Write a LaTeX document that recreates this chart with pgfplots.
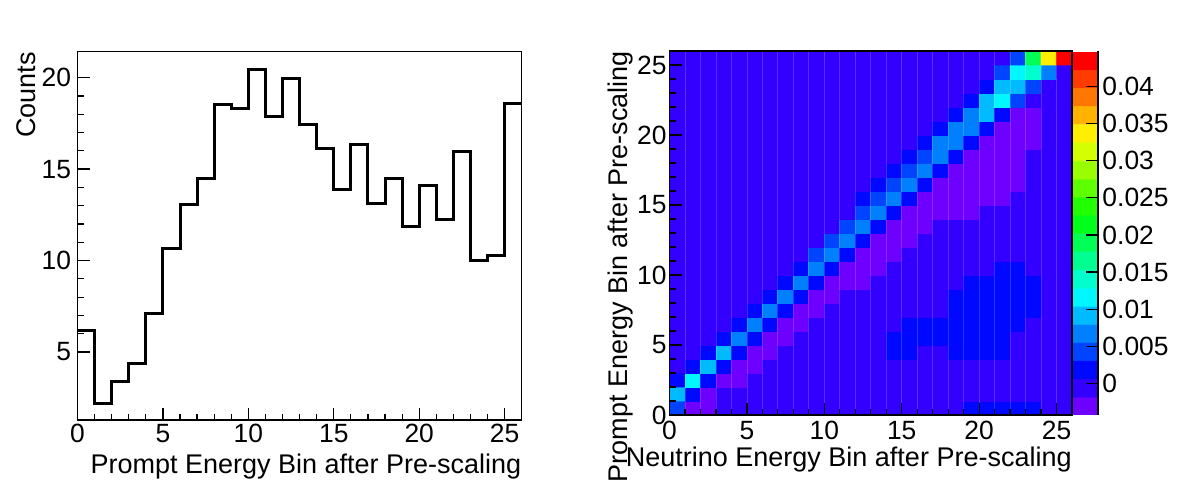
\documentclass[border=0pt]{standalone}
\usepackage{fontspec}
\setmainfont{Liberation Sans}
\usepackage{pgfplots}
\pgfplotsset{compat=1.18}
\begin{document}
\begin{tikzpicture}
\useasboundingbox (0,0) rectangle (591pt,243pt);
\pgfplotsset{
 every axis/.append style={
  scale only axis,
  /pgf/number format/assume math mode=true,
  tick label style={font=\fontsize{13.2}{15}\selectfont},
  label style={font=\fontsize{13.5}{16}\selectfont},
  axis line style={line width=0.6pt},
  tick style={line width=0.6pt, black},
  tick align=inside,
  major tick length=6pt,
  minor tick length=3pt,
 }
}
% ---------------- left: histogram ----------------
\begin{axis}[
 at={(38.75pt,33pt)}, anchor=south west,
 width=222.1pt, height=184.15pt,
 xmin=0, xmax=26, ymin=1.28, ymax=21.42,
 xtick={0,5,10,15,20,25}, ytick={5,10,15,20},
 minor x tick num=4, minor y tick num=4,
 xtick pos=bottom, ytick pos=left,
 xticklabel style={inner sep=0pt, yshift=-2pt},
 yticklabel style={inner sep=0pt, xshift=-3pt},
 xlabel={Prompt Energy Bin after Pre-scaling},
 ylabel={Counts},
 xlabel style={at={([yshift=-27pt]rel axis cs:1,0)}, anchor=base east, inner sep=0pt},
 ylabel style={at={([xshift=-21.25pt]rel axis cs:0,1)}, anchor=base east, inner sep=0pt},
]
\addplot[const plot, black, line width=1.5pt, line join=miter] coordinates {
(0,6.15) (1,2.19) (2,3.36) (3,4.38) (4,7.13) (5,10.67) (6,13.06) (7,14.51)
(8,18.54) (9,18.34) (10,20.46) (11,17.89) (12,19.96) (13,17.45) (14,16.14)
(15,13.89) (16,16.34) (17,13.11) (18,14.46) (19,11.84) (20,14.08) (21,12.27)
(22,15.97) (23,10.0) (24,10.29) (25,18.61) (26,18.61)
};
\end{axis}
% ---------------- right: 2D map ----------------
\begin{axis}[
 at={(334.75pt,35.5pt)}, anchor=south west,
 width=201.25pt, height=182pt,
 xmin=0, xmax=26, ymin=0, ymax=26,
 xtick={0,5,10,15,20,25}, ytick={0,5,10,15,20,25},
 minor x tick num=4, minor y tick num=4,
 xtick pos=bottom, ytick pos=left,
 axis on top,
 xmajorgrids, xminorgrids,
 major grid style={white, opacity=0.18, line width=0.4pt},
 minor grid style={white, opacity=0.18, line width=0.4pt},
 xticklabel style={inner sep=0pt, yshift=-3pt},
 yticklabel style={inner sep=0pt, xshift=-1.25pt},
 xlabel={Neutrino Energy Bin after Pre-scaling},
 ylabel={Prompt Energy Bin after Pre-scaling},
 xlabel style={at={([yshift=-26pt]rel axis cs:1,0)}, anchor=base east, inner sep=0pt},
 ylabel style={at={([xshift=-21.25pt]rel axis cs:0,1)}, anchor=base east, inner sep=0pt},
 colormap={rootpal}{
  rgb255(0pt)=(110,0,255) rgb255(9.8pt)=(110,0,255)
  rgb255(10pt)=(51,0,255) rgb255(19.8pt)=(51,0,255)
  rgb255(20pt)=(0,8,255) rgb255(29.8pt)=(0,8,255)
  rgb255(30pt)=(0,68,255) rgb255(39.8pt)=(0,68,255)
  rgb255(40pt)=(0,128,255) rgb255(49.8pt)=(0,128,255)
  rgb255(50pt)=(0,187,255) rgb255(59.8pt)=(0,187,255)
  rgb255(60pt)=(0,247,255) rgb255(69.8pt)=(0,247,255)
  rgb255(70pt)=(0,255,204) rgb255(79.8pt)=(0,255,204)
  rgb255(80pt)=(0,255,145) rgb255(89.8pt)=(0,255,145)
  rgb255(90pt)=(0,255,85) rgb255(99.8pt)=(0,255,85)
  rgb255(100pt)=(0,255,26) rgb255(109.8pt)=(0,255,26)
  rgb255(110pt)=(34,255,0) rgb255(119.8pt)=(34,255,0)
  rgb255(120pt)=(94,255,0) rgb255(129.8pt)=(94,255,0)
  rgb255(130pt)=(153,255,0) rgb255(139.8pt)=(153,255,0)
  rgb255(140pt)=(212,255,0) rgb255(149.8pt)=(212,255,0)
  rgb255(150pt)=(255,238,0) rgb255(159.8pt)=(255,238,0)
  rgb255(160pt)=(255,179,0) rgb255(169.8pt)=(255,179,0)
  rgb255(170pt)=(255,119,0) rgb255(179.8pt)=(255,119,0)
  rgb255(180pt)=(255,59,0) rgb255(189.8pt)=(255,59,0)
  rgb255(190pt)=(255,0,0) rgb255(200pt)=(255,0,0)
 },
 point meta min=-0.00427, point meta max=0.0448,
 colorbar,
 colorbar style={
  at={(parent axis.north east)}, anchor=north west, xshift=-8pt,
  scale only axis, width=12.5pt, height=182pt,
  axis x line=none, axis y line*=right,
  y axis line style={line width=0.6pt},
  tick align=inside, major tick length=6pt,
  scaled y ticks=false,
  ytick={0,0.005,0.01,0.015,0.02,0.025,0.03,0.035,0.04},
  yticklabels={0,0.005,0.01,0.015,0.02,0.025,0.03,0.035,0.04},
  yticklabel style={inner sep=0pt, xshift=2pt, font=\fontsize{13.2}{15}\selectfont},
 },
]
\addplot[matrix plot*, mesh/cols=26, point meta=explicit]
 table[x expr=\thisrow{c}+0.5, y expr=\thisrow{r}+0.5, meta=v, row sep=\\] {
c r v\\
0 0 0.0043\\ 1 0 -0.0042\\ 2 0 -0.003\\ 3 0 0\\ 4 0 0\\ 5 0 0\\ 6 0 0\\ 7 0 0\\ 8 0 0\\ 9 0 0\\ 10 0 0\\ 11 0 0\\ 12 0 0\\ 13 0 0\\ 14 0 0\\ 15 0 0\\ 16 0 0\\ 17 0 0\\ 18 0 0\\ 19 0 0.0019\\ 20 0 0.0019\\ 21 0 0.0019\\ 22 0 0.0019\\ 23 0 0.0019\\ 24 0 0\\ 25 0 0\\
0 1 0.0092\\ 1 1 0.0019\\ 2 1 -0.003\\ 3 1 0\\ 4 1 0\\ 5 1 0\\ 6 1 0\\ 7 1 0\\ 8 1 0\\ 9 1 0\\ 10 1 0\\ 11 1 0\\ 12 1 0\\ 13 1 0\\ 14 1 0\\ 15 1 0\\ 16 1 0\\ 17 1 0\\ 18 1 0\\ 19 1 0\\ 20 1 0\\ 21 1 0\\ 22 1 0\\ 23 1 0\\ 24 1 0\\ 25 1 0\\
0 2 0.0019\\ 1 2 0.0117\\ 2 2 0.0019\\ 3 2 -0.003\\ 4 2 -0.003\\ 5 2 0\\ 6 2 0\\ 7 2 0\\ 8 2 0\\ 9 2 0\\ 10 2 0\\ 11 2 0\\ 12 2 0\\ 13 2 0\\ 14 2 0\\ 15 2 0\\ 16 2 0\\ 17 2 0\\ 18 2 0\\ 19 2 0\\ 20 2 0\\ 21 2 0\\ 22 2 0\\ 23 2 0\\ 24 2 0\\ 25 2 0\\
0 3 0\\ 1 3 0.0019\\ 2 3 0.0092\\ 3 3 0.0019\\ 4 3 -0.003\\ 5 3 -0.003\\ 6 3 0\\ 7 3 0\\ 8 3 0\\ 9 3 0\\ 10 3 0\\ 11 3 0\\ 12 3 0\\ 13 3 0\\ 14 3 0\\ 15 3 0\\ 16 3 0\\ 17 3 0\\ 18 3 0\\ 19 3 0\\ 20 3 0\\ 21 3 0\\ 22 3 0\\ 23 3 0\\ 24 3 0\\ 25 3 0\\
0 4 0\\ 1 4 0\\ 2 4 0.0019\\ 3 4 0.0092\\ 4 4 0.0019\\ 5 4 -0.003\\ 6 4 -0.003\\ 7 4 0\\ 8 4 0\\ 9 4 0\\ 10 4 0\\ 11 4 0\\ 12 4 0\\ 13 4 0\\ 14 4 0.0019\\ 15 4 0.0019\\ 16 4 0\\ 17 4 0\\ 18 4 0.0019\\ 19 4 0.0019\\ 20 4 0.0019\\ 21 4 0.0019\\ 22 4 0\\ 23 4 0\\ 24 4 0\\ 25 4 0\\
0 5 0\\ 1 5 0\\ 2 5 0\\ 3 5 0.0019\\ 4 5 0.0068\\ 5 5 0.0019\\ 6 5 -0.003\\ 7 5 -0.003\\ 8 5 0\\ 9 5 0\\ 10 5 0\\ 11 5 0\\ 12 5 0\\ 13 5 0\\ 14 5 0.0019\\ 15 5 0.0019\\ 16 5 0.0019\\ 17 5 0.0019\\ 18 5 0.0019\\ 19 5 0.0019\\ 20 5 0.0019\\ 21 5 0.0019\\ 22 5 0\\ 23 5 0\\ 24 5 0\\ 25 5 0\\
0 6 0\\ 1 6 0\\ 2 6 0\\ 3 6 0\\ 4 6 0.0019\\ 5 6 0.0068\\ 6 6 0.0019\\ 7 6 -0.003\\ 8 6 -0.003\\ 9 6 0\\ 10 6 0\\ 11 6 0\\ 12 6 0\\ 13 6 0\\ 14 6 0\\ 15 6 0.0019\\ 16 6 0.0019\\ 17 6 0.0019\\ 18 6 0.0019\\ 19 6 0.0019\\ 20 6 0.0019\\ 21 6 0.0019\\ 22 6 0.0019\\ 23 6 0\\ 24 6 0\\ 25 6 0\\
0 7 0\\ 1 7 0\\ 2 7 0\\ 3 7 0\\ 4 7 0\\ 5 7 0.0019\\ 6 7 0.0068\\ 7 7 0.0019\\ 8 7 -0.003\\ 9 7 -0.003\\ 10 7 0\\ 11 7 0\\ 12 7 0\\ 13 7 0\\ 14 7 0\\ 15 7 0\\ 16 7 0\\ 17 7 0\\ 18 7 0.0019\\ 19 7 0.0019\\ 20 7 0.0019\\ 21 7 0.0019\\ 22 7 0.0019\\ 23 7 0.0019\\ 24 7 0\\ 25 7 0\\
0 8 0\\ 1 8 0\\ 2 8 0\\ 3 8 0\\ 4 8 0\\ 5 8 0\\ 6 8 0.0019\\ 7 8 0.0068\\ 8 8 0.0019\\ 9 8 -0.003\\ 10 8 -0.003\\ 11 8 0\\ 12 8 0\\ 13 8 0\\ 14 8 0\\ 15 8 0\\ 16 8 0\\ 17 8 0\\ 18 8 0.0019\\ 19 8 0.0019\\ 20 8 0.0019\\ 21 8 0.0019\\ 22 8 0.0019\\ 23 8 0.0019\\ 24 8 0\\ 25 8 0\\
0 9 0\\ 1 9 0\\ 2 9 0\\ 3 9 0\\ 4 9 0\\ 5 9 0\\ 6 9 0\\ 7 9 0.0019\\ 8 9 0.0068\\ 9 9 0.0019\\ 10 9 -0.003\\ 11 9 -0.003\\ 12 9 -0.003\\ 13 9 0\\ 14 9 0\\ 15 9 0\\ 16 9 0\\ 17 9 0\\ 18 9 0\\ 19 9 0.0019\\ 20 9 0.0019\\ 21 9 0.0019\\ 22 9 0.0019\\ 23 9 0.0019\\ 24 9 0\\ 25 9 0\\
0 10 0\\ 1 10 0\\ 2 10 0\\ 3 10 0\\ 4 10 0\\ 5 10 0\\ 6 10 0\\ 7 10 0\\ 8 10 0.0019\\ 9 10 0.0068\\ 10 10 0.0019\\ 11 10 -0.003\\ 12 10 -0.003\\ 13 10 -0.003\\ 14 10 0\\ 15 10 0\\ 16 10 0\\ 17 10 0\\ 18 10 0\\ 19 10 0\\ 20 10 0\\ 21 10 0.0019\\ 22 10 0.0019\\ 23 10 0\\ 24 10 0\\ 25 10 0\\
0 11 0\\ 1 11 0\\ 2 11 0\\ 3 11 0\\ 4 11 0\\ 5 11 0\\ 6 11 0\\ 7 11 0\\ 8 11 0\\ 9 11 0.0043\\ 10 11 0.0068\\ 11 11 0.0019\\ 12 11 -0.003\\ 13 11 -0.003\\ 14 11 -0.003\\ 15 11 0\\ 16 11 0\\ 17 11 0\\ 18 11 0\\ 19 11 0\\ 20 11 0\\ 21 11 0\\ 22 11 0\\ 23 11 0\\ 24 11 0\\ 25 11 0\\
0 12 0\\ 1 12 0\\ 2 12 0\\ 3 12 0\\ 4 12 0\\ 5 12 0\\ 6 12 0\\ 7 12 0\\ 8 12 0\\ 9 12 0\\ 10 12 0.0043\\ 11 12 0.0068\\ 12 12 0.0019\\ 13 12 -0.003\\ 14 12 -0.003\\ 15 12 -0.003\\ 16 12 0\\ 17 12 0\\ 18 12 0\\ 19 12 0\\ 20 12 0\\ 21 12 0\\ 22 12 0\\ 23 12 0\\ 24 12 0\\ 25 12 0\\
0 13 0\\ 1 13 0\\ 2 13 0\\ 3 13 0\\ 4 13 0\\ 5 13 0\\ 6 13 0\\ 7 13 0\\ 8 13 0\\ 9 13 0\\ 10 13 0\\ 11 13 0.0043\\ 12 13 0.0068\\ 13 13 0.0019\\ 14 13 -0.003\\ 15 13 -0.003\\ 16 13 -0.003\\ 17 13 0\\ 18 13 0\\ 19 13 0\\ 20 13 0\\ 21 13 0\\ 22 13 0\\ 23 13 0\\ 24 13 0\\ 25 13 0\\
0 14 0\\ 1 14 0\\ 2 14 0\\ 3 14 0\\ 4 14 0\\ 5 14 0\\ 6 14 0\\ 7 14 0\\ 8 14 0\\ 9 14 0\\ 10 14 0\\ 11 14 0\\ 12 14 0.0043\\ 13 14 0.0068\\ 14 14 0.0019\\ 15 14 -0.003\\ 16 14 -0.003\\ 17 14 -0.003\\ 18 14 -0.003\\ 19 14 -0.003\\ 20 14 0\\ 21 14 0\\ 22 14 0\\ 23 14 0\\ 24 14 0\\ 25 14 0\\
0 15 0\\ 1 15 0\\ 2 15 0\\ 3 15 0\\ 4 15 0\\ 5 15 0\\ 6 15 0\\ 7 15 0\\ 8 15 0\\ 9 15 0\\ 10 15 0\\ 11 15 0\\ 12 15 0.0019\\ 13 15 0.0043\\ 14 15 0.0068\\ 15 15 0.0019\\ 16 15 -0.003\\ 17 15 -0.003\\ 18 15 -0.003\\ 19 15 -0.003\\ 20 15 -0.003\\ 21 15 -0.003\\ 22 15 0\\ 23 15 0\\ 24 15 0\\ 25 15 0\\
0 16 0\\ 1 16 0\\ 2 16 0\\ 3 16 0\\ 4 16 0\\ 5 16 0\\ 6 16 0\\ 7 16 0\\ 8 16 0\\ 9 16 0\\ 10 16 0\\ 11 16 0\\ 12 16 0\\ 13 16 0.0019\\ 14 16 0.0043\\ 15 16 0.0068\\ 16 16 0.0019\\ 17 16 -0.003\\ 18 16 -0.003\\ 19 16 -0.003\\ 20 16 -0.003\\ 21 16 -0.003\\ 22 16 -0.003\\ 23 16 0\\ 24 16 0\\ 25 16 0\\
0 17 0\\ 1 17 0\\ 2 17 0\\ 3 17 0\\ 4 17 0\\ 5 17 0\\ 6 17 0\\ 7 17 0\\ 8 17 0\\ 9 17 0\\ 10 17 0\\ 11 17 0\\ 12 17 0\\ 13 17 0\\ 14 17 0.0019\\ 15 17 0.0043\\ 16 17 0.0068\\ 17 17 0.0019\\ 18 17 -0.003\\ 19 17 -0.003\\ 20 17 -0.003\\ 21 17 -0.003\\ 22 17 -0.003\\ 23 17 0\\ 24 17 0\\ 25 17 0\\
0 18 0\\ 1 18 0\\ 2 18 0\\ 3 18 0\\ 4 18 0\\ 5 18 0\\ 6 18 0\\ 7 18 0\\ 8 18 0\\ 9 18 0\\ 10 18 0\\ 11 18 0\\ 12 18 0\\ 13 18 0\\ 14 18 0\\ 15 18 0.0019\\ 16 18 0.0043\\ 17 18 0.0068\\ 18 18 0.0019\\ 19 18 -0.003\\ 20 18 -0.003\\ 21 18 -0.003\\ 22 18 -0.003\\ 23 18 0\\ 24 18 0\\ 25 18 0\\
0 19 0\\ 1 19 0\\ 2 19 0\\ 3 19 0\\ 4 19 0\\ 5 19 0\\ 6 19 0\\ 7 19 0\\ 8 19 0\\ 9 19 0\\ 10 19 0\\ 11 19 0\\ 12 19 0\\ 13 19 0\\ 14 19 0\\ 15 19 0\\ 16 19 0.0019\\ 17 19 0.0068\\ 18 19 0.0068\\ 19 19 0.0019\\ 20 19 -0.003\\ 21 19 -0.003\\ 22 19 -0.003\\ 23 19 -0.003\\ 24 19 0\\ 25 19 0\\
0 20 0\\ 1 20 0\\ 2 20 0\\ 3 20 0\\ 4 20 0\\ 5 20 0\\ 6 20 0\\ 7 20 0\\ 8 20 0\\ 9 20 0\\ 10 20 0\\ 11 20 0\\ 12 20 0\\ 13 20 0\\ 14 20 0\\ 15 20 0\\ 16 20 0\\ 17 20 0.0019\\ 18 20 0.0068\\ 19 20 0.0068\\ 20 20 0.0019\\ 21 20 -0.003\\ 22 20 -0.003\\ 23 20 -0.003\\ 24 20 0\\ 25 20 0\\
0 21 0\\ 1 21 0\\ 2 21 0\\ 3 21 0\\ 4 21 0\\ 5 21 0\\ 6 21 0\\ 7 21 0\\ 8 21 0\\ 9 21 0\\ 10 21 0\\ 11 21 0\\ 12 21 0\\ 13 21 0\\ 14 21 0\\ 15 21 0\\ 16 21 0\\ 17 21 0\\ 18 21 0.0019\\ 19 21 0.0068\\ 20 21 0.0092\\ 21 21 0.0019\\ 22 21 -0.003\\ 23 21 -0.003\\ 24 21 0\\ 25 21 0\\
0 22 0\\ 1 22 0\\ 2 22 0\\ 3 22 0\\ 4 22 0\\ 5 22 0\\ 6 22 0\\ 7 22 0\\ 8 22 0\\ 9 22 0\\ 10 22 0\\ 11 22 0\\ 12 22 0\\ 13 22 0\\ 14 22 0\\ 15 22 0\\ 16 22 0\\ 17 22 0\\ 18 22 0\\ 19 22 0.0019\\ 20 22 0.0092\\ 21 22 0.0117\\ 22 22 0.0043\\ 23 22 0\\ 24 22 0\\ 25 22 0\\
0 23 0\\ 1 23 0\\ 2 23 0\\ 3 23 0\\ 4 23 0\\ 5 23 0\\ 6 23 0\\ 7 23 0\\ 8 23 0\\ 9 23 0\\ 10 23 0\\ 11 23 0\\ 12 23 0\\ 13 23 0\\ 14 23 0\\ 15 23 0\\ 16 23 0\\ 17 23 0\\ 18 23 0\\ 19 23 0\\ 20 23 0.0019\\ 21 23 0.0092\\ 22 23 0.0092\\ 23 23 0.0043\\ 24 23 0\\ 25 23 0\\
0 24 0\\ 1 24 0\\ 2 24 0\\ 3 24 0\\ 4 24 0\\ 5 24 0\\ 6 24 0\\ 7 24 0\\ 8 24 0\\ 9 24 0\\ 10 24 0\\ 11 24 0\\ 12 24 0\\ 13 24 0\\ 14 24 0\\ 15 24 0\\ 16 24 0\\ 17 24 0\\ 18 24 0\\ 19 24 0\\ 20 24 0\\ 21 24 0.0043\\ 22 24 0.0117\\ 23 24 0.0141\\ 24 24 0.0068\\ 25 24 0\\
0 25 0\\ 1 25 0\\ 2 25 0\\ 3 25 0\\ 4 25 0\\ 5 25 0\\ 6 25 0\\ 7 25 0\\ 8 25 0\\ 9 25 0\\ 10 25 0\\ 11 25 0\\ 12 25 0\\ 13 25 0\\ 14 25 0\\ 15 25 0\\ 16 25 0\\ 17 25 0\\ 18 25 0\\ 19 25 0\\ 20 25 0\\ 21 25 0\\ 22 25 0.0043\\ 23 25 0.019\\ 24 25 0.0338\\ 25 25 0.0448\\
};
\end{axis}
\end{tikzpicture}
\end{document}
